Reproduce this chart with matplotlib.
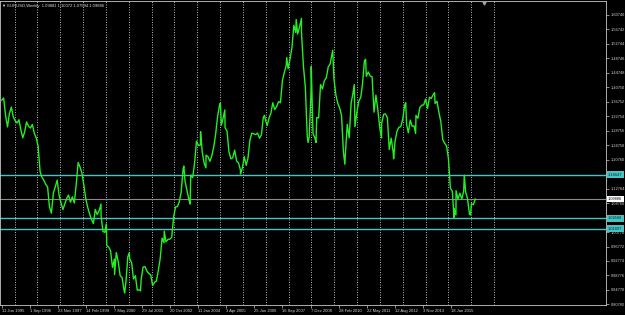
import matplotlib
matplotlib.use("Agg")
import matplotlib.pyplot as plt
import matplotlib.transforms as mtransforms
import pandas as pd

# ---------------- data ----------------
title_text = "\u25BC EURUSD,Weekly  1.09881 1.10072 1.07594 1.09886"
start_date = "1995-06-11"

monthly_close = [
    # 1995 Jun-Dec
    1.372, 1.378, 1.330, 1.298, 1.335, 1.353, 1.326,
    # 1996
    1.315, 1.309, 1.318, 1.290, 1.268, 1.285, 1.312, 1.300, 1.295, 1.305, 1.281, 1.268,
    # 1997
    1.245, 1.175, 1.160, 1.151, 1.140, 1.132, 1.077, 1.060, 1.116, 1.132, 1.151, 1.110,
    # 1998
    1.088, 1.070, 1.085, 1.100, 1.110, 1.090, 1.105, 1.088, 1.140, 1.200, 1.187, 1.170,
    # 1999
    1.136, 1.099, 1.077, 1.058, 1.043, 1.031, 1.070, 1.056, 1.067, 1.054, 1.009, 1.007,
    # 2000
    0.970, 0.966, 0.956, 0.910, 0.933, 0.951, 0.926, 0.887, 0.882, 0.848, 0.870, 0.939,
    # 2001
    0.934, 0.922, 0.878, 0.887, 0.847, 0.848, 0.875, 0.911, 0.912, 0.900, 0.893, 0.890,
    # 2002
    0.860, 0.869, 0.872, 0.901, 0.934, 0.991, 0.978, 0.981, 0.987, 0.988, 0.993, 1.049,
    # 2003
    1.077, 1.078, 1.091, 1.118, 1.181, 1.149, 1.124, 1.098, 1.165, 1.158, 1.199, 1.259,
    # 2004
    1.247, 1.248, 1.230, 1.198, 1.220, 1.216, 1.203, 1.218, 1.243, 1.277, 1.326, 1.357,
    # 2005
    1.303, 1.325, 1.296, 1.287, 1.230, 1.210, 1.213, 1.234, 1.204, 1.199, 1.179, 1.184,
    # 2006
    1.216, 1.192, 1.212, 1.262, 1.281, 1.279, 1.277, 1.281, 1.267, 1.276, 1.325, 1.320,
    # 2007
    1.302, 1.323, 1.336, 1.365, 1.346, 1.354, 1.368, 1.365, 1.426, 1.448, 1.468, 1.459,
    # 2008
    1.486, 1.518, 1.579, 1.559, 1.555, 1.575, 1.560, 1.467, 1.408, 1.273, 1.270, 1.397,
    # 2009
    1.280, 1.267, 1.324, 1.323, 1.415, 1.403, 1.426, 1.434, 1.464, 1.472, 1.501, 1.432,
    # 2010
    1.386, 1.363, 1.351, 1.330, 1.229, 1.223, 1.305, 1.268, 1.364, 1.392, 1.299, 1.338,
    # 2011
    1.369, 1.380, 1.416, 1.481, 1.438, 1.450, 1.439, 1.437, 1.339, 1.386, 1.345, 1.296,
    # 2012
    1.308, 1.333, 1.334, 1.324, 1.236, 1.267, 1.230, 1.258, 1.286, 1.297, 1.299, 1.319,
    # 2013
    1.358, 1.306, 1.282, 1.317, 1.300, 1.301, 1.330, 1.322, 1.352, 1.358, 1.359, 1.375,
    # 2014
    1.349, 1.380, 1.377, 1.387, 1.363, 1.369, 1.339, 1.313, 1.263, 1.253, 1.245, 1.210,
    # 2015
    1.129, 1.120, 1.073, 1.122, 1.099, 1.115, 1.099, 1.121, 1.118, 1.100, 1.057, 1.086,
    # 2016 Jan-Feb
    1.083, 1.099,
]

swing_dates = [
    "1999-10-15", "2000-01-07", "2000-05-18", "2000-10-26", "2001-01-05",
    "2001-07-06", "2002-07-19", "2003-05-27", "2003-09-04", "2004-02-18",
    "2004-05-14", "2004-12-30", "2005-03-11", "2005-11-15", "2006-12-04",
    "2007-11-23", "2008-04-22", "2008-07-15", "2008-10-28", "2008-12-18",
    "2009-03-04", "2009-11-25", "2010-06-07", "2010-11-04", "2011-05-04",
    "2012-01-13", "2012-07-24", "2013-02-01", "2013-07-09", "2014-05-08",
    "2015-03-13", "2015-04-13", "2015-08-24", "2015-12-02",
]
swing_values = [
    1.085, 1.030, 0.890, 0.8395, 0.950,
    0.845, 1.010, 1.190, 1.085, 1.285,
    1.185, 1.364, 1.345, 1.168, 1.330,
    1.490, 1.595, 1.598, 1.255, 1.465,
    1.255, 1.510, 1.195, 1.415, 1.485,
    1.268, 1.210, 1.365, 1.280, 1.393,
    1.048, 1.055, 1.165, 1.055,
]

last_date = "2016-02-14"
last_close = 1.09886

x_tick_labels = [
    "11 Jun 1995", "1 Sep 1996", "23 Nov 1997", "14 Feb 1999", "7 May 2000",
    "29 Jul 2001", "20 Oct 2002", "11 Jan 2004", "3 Apr 2005", "25 Jun 2006",
    "16 Sep 2007", "7 Dec 2008", "28 Feb 2010", "22 May 2011", "12 Aug 2012",
    "3 Nov 2013", "18 Jan 2015",
]

price_tick_labels = [
    "1.60740", "1.56742", "1.52744", "1.48746", "1.44748", "1.40750", "1.36752",
    "1.32754", "1.28756", "1.24758", "1.20760", "1.16762", "1.12764", "1.08766",
    "1.04768", "1.00770", "0.96772", "0.92774", "0.88776", "0.84778", "0.80780",
]

level_values = [1.16647, 1.04568, 1.01697]
bid_price = 1.09886

# ---------------- build series ----------------
t0 = pd.Timestamp(start_date)
m_dates = pd.date_range("1995-06-01", periods=len(monthly_close), freq="MS") + pd.Timedelta(days=14)
s = pd.concat([
    pd.Series(monthly_close, index=m_dates),
    pd.Series(swing_values, index=pd.to_datetime(swing_dates)),
    pd.Series([last_close], index=[pd.Timestamp(last_date)]),
]).sort_index()
bars = (s.index - t0).days / 7.0

# ---------------- figure ----------------
W, H = 625, 315
FONT = ["Liberation Sans", "DejaVu Sans"]
fig = plt.figure(figsize=(W / 100, H / 100), dpi=100, facecolor="black")
left_px, right_px, top_px, bot_px = 0, 606, 1, 305
ax = fig.add_axes([left_px / W, (H - bot_px) / H, (right_px - left_px) / W, (bot_px - top_px) / H])
ax.set_facecolor("black")

px_per_bar = 0.439
x0_px = 1.5
ax.set_xlim((left_px - x0_px) / px_per_bar, (right_px - x0_px) / px_per_bar)
YLIM = (0.80613, 1.64608)

# vertical dotted grid (roughly every 52 bars)
grid_dates = pd.date_range("1996-01-07", periods=22, freq="364D")
for g in (grid_dates - t0).days / 7.0:
    ax.axvline(g, color="#d0d0d0", lw=0.6, ls=(0, (1.2, 1.8)), zorder=1)

# horizontal levels
for lv in level_values:
    ax.axhline(lv, color="#45c4c4", lw=1.0, zorder=2)
ax.axhline(bid_price, color="#8a8a8a", lw=0.8, zorder=2)

# price line
ax.plot(bars, s.values, color="#22f022", lw=1.0, zorder=3)

# spines
for sp in ax.spines.values():
    sp.set_color("#c8c8c8")
    sp.set_linewidth(0.6)

# x ticks from label dates
xt = [(pd.to_datetime(lbl, format="%d %b %Y") - t0).days / 7.0 for lbl in x_tick_labels]
ax.set_xticks(xt)
ax.set_xticklabels(x_tick_labels, family=FONT)
for lab in ax.get_xticklabels():
    lab.set_horizontalalignment("left")
ax.tick_params(axis="x", colors="#c8c8c8", labelcolor="#d8d8d8", labelsize=3.0,
               length=2, width=0.5, pad=1.0, direction="out")

# y ticks on right; labels hidden where a level box covers them (as in the terminal)
boxed = level_values + [bid_price]
yvals = [float(v) for v in price_tick_labels]
ylabels = [lbl if min(abs(float(lbl) - b) for b in boxed) > 0.005 else "" for lbl in price_tick_labels]
ax.yaxis.tick_right()
ax.set_yticks(yvals)
ax.set_yticklabels(ylabels, family=FONT)
ax.tick_params(axis="y", colors="#c8c8c8", labelcolor="#d8d8d8", labelsize=2.8,
               length=2, width=0.5, pad=1.5, direction="out")
ax.set_ylim(*YLIM)

# boxed price labels on the right
trans = mtransforms.blended_transform_factory(ax.transAxes, ax.transData)
for lv in level_values:
    ax.text(1.0 + 2 / 606, lv, f"{lv:.5f}", transform=trans, ha="left", va="center",
            fontsize=2.8, color="#0a2020", family=FONT,
            bbox=dict(facecolor="#45c4c4", edgecolor="none", pad=1.0), clip_on=False, zorder=10)
ax.text(1.0 + 2 / 606, bid_price, f"{bid_price:.5f}", transform=trans, ha="left", va="center",
        fontsize=2.8, color="black", family=FONT,
        bbox=dict(facecolor="white", edgecolor="none", pad=1.0), clip_on=False, zorder=10)

# title
fig.text(2 / W, 1 - 5.5 / H, title_text, color="#e0e0e0", fontsize=3.0, ha="left", va="center",
         family=FONT)

# chart-shift marker
ax.plot([0.798], [0.995], marker="v", ms=2.2, color="#a0a0a0", transform=ax.transAxes,
        clip_on=False, zorder=5)

fig.savefig("out.png", dpi=100, facecolor="black")
